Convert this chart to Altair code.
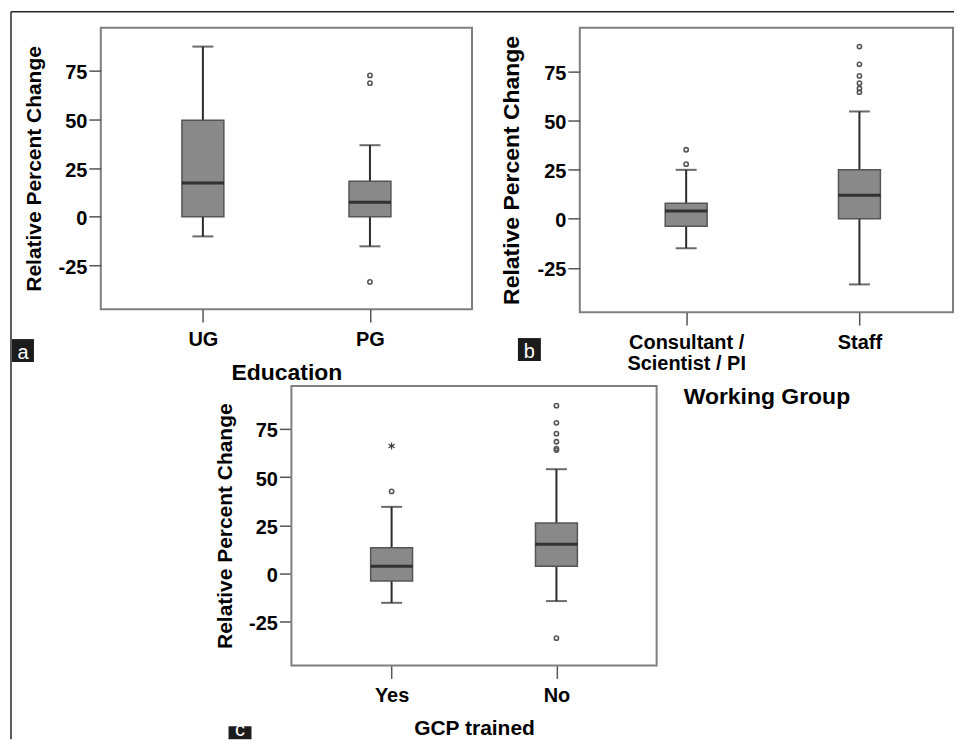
import altair as alt
import pandas as pd

# ---------------- data ----------------
# Panel a: Education
edu_cats = ["UG", "PG"]
edu_low = [-10.1, -15.2]
edu_q1 = [0.0, 0.0]
edu_med = [17.4, 7.5]
edu_q3 = [49.6, 18.2]
edu_high = [87.5, 36.8]
edu_out_cat = ["PG", "PG", "PG"]
edu_out_val = [72.7, 68.7, -33.5]

# Panel b: Working Group
grp_cats = ["Consultant / Scientist / PI", "Staff"]
grp_low = [-15.0, -33.4]
grp_q1 = [-3.8, 0.0]
grp_med = [3.9, 12.0]
grp_q3 = [7.9, 24.9]
grp_high = [24.9, 54.6]
grp_out_cat = ["Consultant / Scientist / PI", "Consultant / Scientist / PI",
               "Staff", "Staff", "Staff", "Staff", "Staff", "Staff"]
grp_out_val = [35.1, 27.8, 87.6, 78.6, 72.7, 69.0, 66.3, 64.4]

# Panel c: GCP trained
gcp_cats = ["Yes", "No"]
gcp_low = [-15.1, -14.2]
gcp_q1 = [-3.8, 3.9]
gcp_med = [3.8, 15.2]
gcp_q3 = [13.4, 26.2]
gcp_high = [34.6, 54.1]
gcp_out_cat = ["Yes", "No", "No", "No", "No", "No", "No", "No"]
gcp_out_val = [42.6, 87.0, 78.1, 72.5, 68.3, 64.8, 64.0, -33.4]
gcp_ext_cat = ["Yes"]
gcp_ext_val = [66.1]

y_ticks = [-25, 0, 25, 50, 75]
y_domain = [-47.5, 97.2]
Y_TITLE = "Relative Percent Change"
FONT = "Liberation Sans"
FRAME = "#7f7f7f"

ASTERISK = "M0,-1L0,1M-0.87,-0.5L0.87,0.5M-0.87,0.5L0.87,-0.5"


def panel(cats, low, q1, med, q3, high, out_cat, out_val, width, height,
          xtitle, xtitle_y, pad, align, ytitle_size, xtitle_size,
          letter, letter_box, ext_cat=None, ext_val=None, extra=None,
          shift=0, plot_w=None):
    box = pd.DataFrame({"cat": cats, "low": low, "q1": q1, "med": med,
                        "q3": q3, "high": high})
    out = pd.DataFrame({"cat": out_cat, "val": out_val})
    pw = plot_w if plot_w else width

    xaxis_kw = dict(title=xtitle, titleY=xtitle_y, titleFontSize=xtitle_size,
                    labelAngle=0, labelPadding=7, tickSize=13,
                    labelExpr="datum.value == 'Consultant / Scientist / PI' ? ['Consultant /', 'Scientist / PI'] : datum.label",
                    labelLineHeight=21)
    if shift:
        xaxis_kw["titleX"] = shift + pw / 2
    xaxis = alt.Axis(**xaxis_kw)
    scale_kw = dict(type="point", domain=cats, padding=pad, align=align)
    if shift:
        scale_kw["range"] = [shift, shift + pw]
    xscale = alt.Scale(**scale_kw)
    yaxis_kw = dict(title=Y_TITLE, values=y_ticks, titleX=-56,
                    titleFontSize=ytitle_size, labelPadding=2, tickSize=12,
                    labelOffset=2, labelExpr="datum.value + ''")
    if shift:
        yaxis_kw["offset"] = -shift
    yaxis = alt.Axis(**yaxis_kw)
    yscale = alt.Scale(domain=y_domain, nice=False, zero=False)

    def X(f="cat"):
        return alt.X(f"{f}:N", scale=xscale, axis=xaxis, sort=cats, title=xtitle)

    def Y(f):
        return alt.Y(f"{f}:Q", scale=yscale, axis=yaxis, title=Y_TITLE)

    layers = []
    if shift:
        fr = pd.DataFrame({"k": [0]})
        layers.append(alt.Chart(fr).mark_rect(filled=False, stroke=FRAME,
                                              strokeWidth=2).encode(
            x=alt.value(shift), x2=alt.value(shift + pw),
            y=alt.value(0), y2=alt.value(height)))

    base = alt.Chart(box)
    whisk = base.mark_rule(color="#2b2b2b", strokeWidth=2).encode(
        x=X(), y=Y("low"), y2="high:Q")
    boxm = base.mark_bar(size=42, fill="#898989", stroke="#555555",
                         strokeWidth=1.5).encode(x=X(), y=Y("q1"), y2="q3:Q")
    medm = base.mark_tick(size=42, thickness=3, color="#0d0d0d").encode(
        x=X(), y=Y("med"))
    capl = base.mark_tick(size=21, thickness=2, color="#2b2b2b").encode(
        x=X(), y=Y("low"))
    caph = base.mark_tick(size=21, thickness=2, color="#2b2b2b").encode(
        x=X(), y=Y("high"))
    outm = alt.Chart(out).mark_point(shape="circle", size=18, filled=False,
                                     stroke="#555555", strokeWidth=1.6,
                                     opacity=1).encode(x=X(), y=Y("val"))
    layers += [whisk, boxm, medm, capl, caph, outm]
    if ext_cat is not None:
        ext = pd.DataFrame({"cat": ext_cat, "val": ext_val})
        layers.append(alt.Chart(ext).mark_point(shape=ASTERISK, size=49,
                                                filled=False, stroke="#333333",
                                                strokeWidth=1.1, opacity=1)
                      .encode(x=X(), y=Y("val")))

    lab = pd.DataFrame({"t": [letter]})
    x0, x1, y0, y1 = letter_box
    layers.append(alt.Chart(lab).mark_rect(color="#1c1c1c").encode(
        x=alt.value(x0), x2=alt.value(x1), y=alt.value(y0), y2=alt.value(y1)))
    layers.append(alt.Chart(lab).mark_text(color="white", font=FONT,
                                           fontSize=20, baseline="bottom",
                                           align="center").encode(
        text="t:N", x=alt.value((x0 + x1) / 2), y=alt.value(y1 + 1)))
    if extra:
        layers.extend(extra)
    ch = alt.layer(*layers).properties(width=width, height=height)
    if shift:
        ch = ch.properties(view=alt.ViewBackground(stroke="transparent"))
    return ch


# outer figure frame (drawn with panel a as anchor)
frame = pd.DataFrame({"k": [0]})
frame_top = alt.Chart(frame).mark_rule(color="#262626", strokeWidth=1.5).encode(
    x=alt.value(-90), x2=alt.value(855), y=alt.value(-16), y2=alt.value(-16))
frame_left = alt.Chart(frame).mark_rule(color="#262626", strokeWidth=1.5).encode(
    x=alt.value(-90), x2=alt.value(-90), y=alt.value(-16), y2=alt.value(713))

pa = panel(edu_cats, edu_low, edu_q1, edu_med, edu_q3, edu_high,
           edu_out_cat, edu_out_val, 372, 282, "Education", 53, 0.611, 0.5,
           21, 23, "a", (-89, -67, 312, 335), extra=[frame_top, frame_left])
pb = panel(grp_cats, grp_low, grp_q1, grp_med, grp_q3, grp_high,
           grp_out_cat, grp_out_val, 374, 285, "Working Group", 74, 0.577,
           0.532, 23, 23, "b", (-62, -39, 311, 334))
pc = panel(gcp_cats, gcp_low, gcp_q1, gcp_med, gcp_q3, gcp_high,
           gcp_out_cat, gcp_out_val, 372, 280, "GCP trained", 52, 0.608, 0.5,
           21, 21, "c", (128, 151, 341, 354),
           ext_cat=gcp_ext_cat, ext_val=gcp_ext_val, shift=191, plot_w=366)

chart = alt.concat(pa, pb, pc, columns=2,
                   spacing={"row": 74, "column": 108},
                   bounds="flush", align="each").properties(
    padding={"left": 1, "top": 1, "right": 0, "bottom": 0},
    background="white",
).configure_view(
    stroke=FRAME, strokeWidth=2
).configure_axis(
    labelFont=FONT, labelFontWeight="bold", labelFontSize=20,
    labelColor="#000000", titleFont=FONT, titleFontWeight="bold",
    titleColor="#000000", tickColor="#555555", tickWidth=1.5,
    domain=False, grid=False
)

chart.save("out.html", embed_options={"renderer": "svg", "actions": False})
